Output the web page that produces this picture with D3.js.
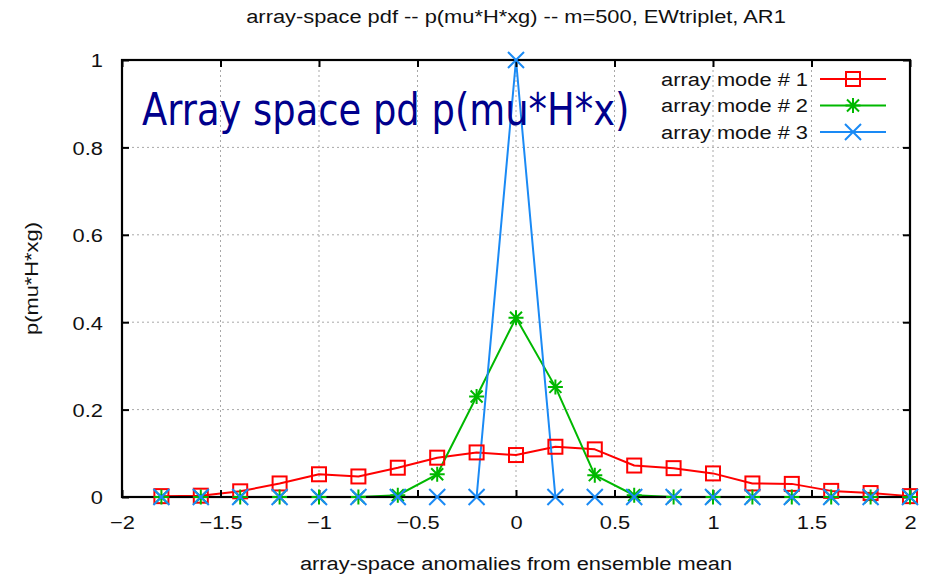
<!DOCTYPE html>
<html>
<head>
<meta charset="utf-8">
<script src="https://cdn.jsdelivr.net/npm/d3@7"></script>
<style>
  html, body { margin: 0; padding: 0; background: #fff; }
  svg { display: block; }
  text { font-family: "Liberation Sans", Arial, sans-serif; fill: #111; }
</style>
</head>
<body>
<svg id="chart" width="932" height="576"></svg>
<script>
// ---- data ---------------------------------------------------------------
const xValues = [-1.8, -1.6, -1.4, -1.2, -1.0, -0.8, -0.6, -0.4, -0.2, 0.0,
                  0.2,  0.4,  0.6,  0.8,  1.0,  1.2,  1.4,  1.6,  1.8, 2.0];
const mode1 = [0.002, 0.003, 0.013, 0.031, 0.052, 0.047, 0.067, 0.090, 0.102, 0.096,
               0.115, 0.109, 0.072, 0.066, 0.054, 0.031, 0.030, 0.014, 0.009, 0.002];
const mode2 = [0, 0, 0, 0, 0, 0, 0.004, 0.052, 0.230, 0.410,
               0.252, 0.050, 0.004, 0, 0, 0, 0, 0, 0, 0];
const mode3 = [0, 0, 0, 0, 0, 0, 0, 0, 0, 1.0,
               0, 0, 0, 0, 0, 0, 0, 0, 0, 0];
const seriesNames = ["array mode # 1", "array mode # 2", "array mode # 3"];
const xTicks = [-2, -1.5, -1, -0.5, 0, 0.5, 1, 1.5, 2];
const yTicks = [0, 0.2, 0.4, 0.6, 0.8, 1];
const titleText = "array-space pdf -- p(mu*H*xg) -- m=500, EWtriplet, AR1";
const xLabelText = "array-space anomalies from ensemble mean";
const yLabelText = "p(mu*H*xg)";
const noteText = "Array space pd p(mu*H*x)";

// ---- layout -------------------------------------------------------------
const W = 932, H = 576;
const margin = { left: 122, right: 22, top: 60, bottom: 79 };
const x0 = margin.left, x1 = W - margin.right;
const y0 = margin.top, y1 = H - margin.bottom;
const SX = 1.15;               // horizontal stretch of the lettering

const colors = ["#ff0000", "#00b800", "#1a8af5"];
const markers = ["square", "star", "cross"];

const svg = d3.select("#chart");
const x = d3.scaleLinear().domain([-2, 2]).range([x0, x1]);
const y = d3.scaleLinear().domain([0, 1]).range([y1, y0]);

function stretched(g, px, py, sx = SX) {
  return g.append("g").attr("transform", `translate(${px},${py}) scale(${sx},1)`);
}

// ---- grid ---------------------------------------------------------------
const grid = svg.append("g").attr("stroke", "#a8a8a8").attr("stroke-width", 1)
  .attr("stroke-dasharray", "2,3");
grid.selectAll("line.gx").data(xTicks.slice(1, -1)).join("line")
  .attr("x1", d => x(d)).attr("x2", d => x(d)).attr("y1", y0).attr("y2", y1);
grid.selectAll("line.gy").data(yTicks.slice(1, -1)).join("line")
  .attr("y1", d => y(d)).attr("y2", d => y(d)).attr("x1", x0).attr("x2", x1);

// ---- series lines -------------------------------------------------------
const series = [mode1, mode2, mode3].map((vals, i) => ({
  name: seriesNames[i], color: colors[i], marker: markers[i],
  points: xValues.map((xv, j) => ({ x: xv, y: vals[j] }))
}));
const line = d3.line().x(d => x(d.x)).y(d => y(d.y));
svg.append("g").selectAll("path").data(series).join("path")
  .attr("d", d => line(d.points))
  .attr("fill", "none").attr("stroke", d => d.color).attr("stroke-width", 2)
  .attr("stroke-linejoin", "round");

// ---- axes (inward ticks on all four sides) -----------------------------
const tickLen = 7;
const axB = svg.append("g").attr("transform", `translate(0,${y1})`)
  .call(d3.axisBottom(x).tickValues(xTicks).tickSizeInner(-tickLen).tickSizeOuter(0)
        .tickPadding(0).tickFormat(d3.format("")));
const axT = svg.append("g").attr("transform", `translate(0,${y0})`)
  .call(d3.axisTop(x).tickValues(xTicks).tickSizeInner(-tickLen).tickSizeOuter(0).tickFormat(""));
const axL = svg.append("g").attr("transform", `translate(${x0},0)`)
  .call(d3.axisLeft(y).tickValues(yTicks).tickSizeInner(-tickLen).tickSizeOuter(0)
        .tickPadding(0).tickFormat(d3.format("")));
const axR = svg.append("g").attr("transform", `translate(${x1},0)`)
  .call(d3.axisRight(y).tickValues(yTicks).tickSizeInner(-tickLen).tickSizeOuter(0).tickFormat(""));
[axB, axT, axL, axR].forEach(a => {
  a.select(".domain").remove();
  a.selectAll(".tick line").attr("stroke", "#000").attr("stroke-width", 2);
});
axB.selectAll(".tick text")
  .attr("y", 0).attr("dy", null).attr("transform", `translate(0,32) scale(${SX},1)`)
  .style("font-size", "19px").attr("fill", "#111");
axL.selectAll(".tick text")
  .attr("x", 0).attr("dy", "0.36em").attr("transform", `translate(-19,0) scale(${SX},1)`)
  .style("font-size", "19px").attr("fill", "#111");

// frame
svg.append("rect").attr("x", x0).attr("y", y0).attr("width", x1 - x0).attr("height", y1 - y0)
  .attr("fill", "none").attr("stroke", "#000").attr("stroke-width", 2.2);

// ---- markers ------------------------------------------------------------
function drawMarker(g, type, color, cx, cy) {
  const m = g.append("g").attr("transform", `translate(${cx},${cy})`)
    .attr("stroke", color).attr("stroke-width", 2).attr("fill", "none");
  if (type === "square") {
    m.append("rect").attr("x", -7).attr("y", -7).attr("width", 14).attr("height", 14);
  } else if (type === "star") {
    const r = 7.5;
    m.append("path").attr("d",
      `M${-r},0H${r}M0,${-r}V${r}M${-r * 0.8},${-r * 0.8}L${r * 0.8},${r * 0.8}M${-r * 0.8},${r * 0.8}L${r * 0.8},${-r * 0.8}`);
  } else {
    const r = 8;
    m.append("path").attr("d", `M${-r},${-r}L${r},${r}M${-r},${r}L${r},${-r}`);
  }
}
const mk = svg.append("g");
series.forEach(s => s.points.forEach(p => drawMarker(mk, s.marker, s.color, x(p.x), y(p.y))));

// ---- legend -------------------------------------------------------------
const legend = svg.append("g");
series.forEach((s, i) => {
  const ly = 79 + i * 26.5;
  const t = stretched(legend, 808, ly);
  t.append("text").attr("text-anchor", "end").attr("dy", "0.36em")
    .style("font-size", "19px").text(s.name);
  legend.append("line").attr("x1", 820).attr("x2", 886).attr("y1", ly).attr("y2", ly)
    .attr("stroke", s.color).attr("stroke-width", 2);
  drawMarker(legend, s.marker, s.color, 853, ly);
});

// ---- annotation (condensed lettering) -----------------------------------
stretched(svg, 142, 125, 0.82).append("text")
  .style("font-family", "'DejaVu Sans', sans-serif").style("font-size", "45px")
  .style("fill", "#00008c").text(noteText);

// ---- titles -------------------------------------------------------------
stretched(svg, (x0 + x1) / 2, 23).append("text").attr("text-anchor", "middle")
  .style("font-size", "19px").text(titleText);
stretched(svg, (x0 + x1) / 2, 570).append("text").attr("text-anchor", "middle")
  .style("font-size", "19px").text(xLabelText);
svg.append("g").attr("transform", `translate(38,${(y0 + y1) / 2}) rotate(-90) scale(${SX},1)`)
  .append("text").attr("text-anchor", "middle").style("font-size", "19px").text(yLabelText);
</script>
</body>
</html>
